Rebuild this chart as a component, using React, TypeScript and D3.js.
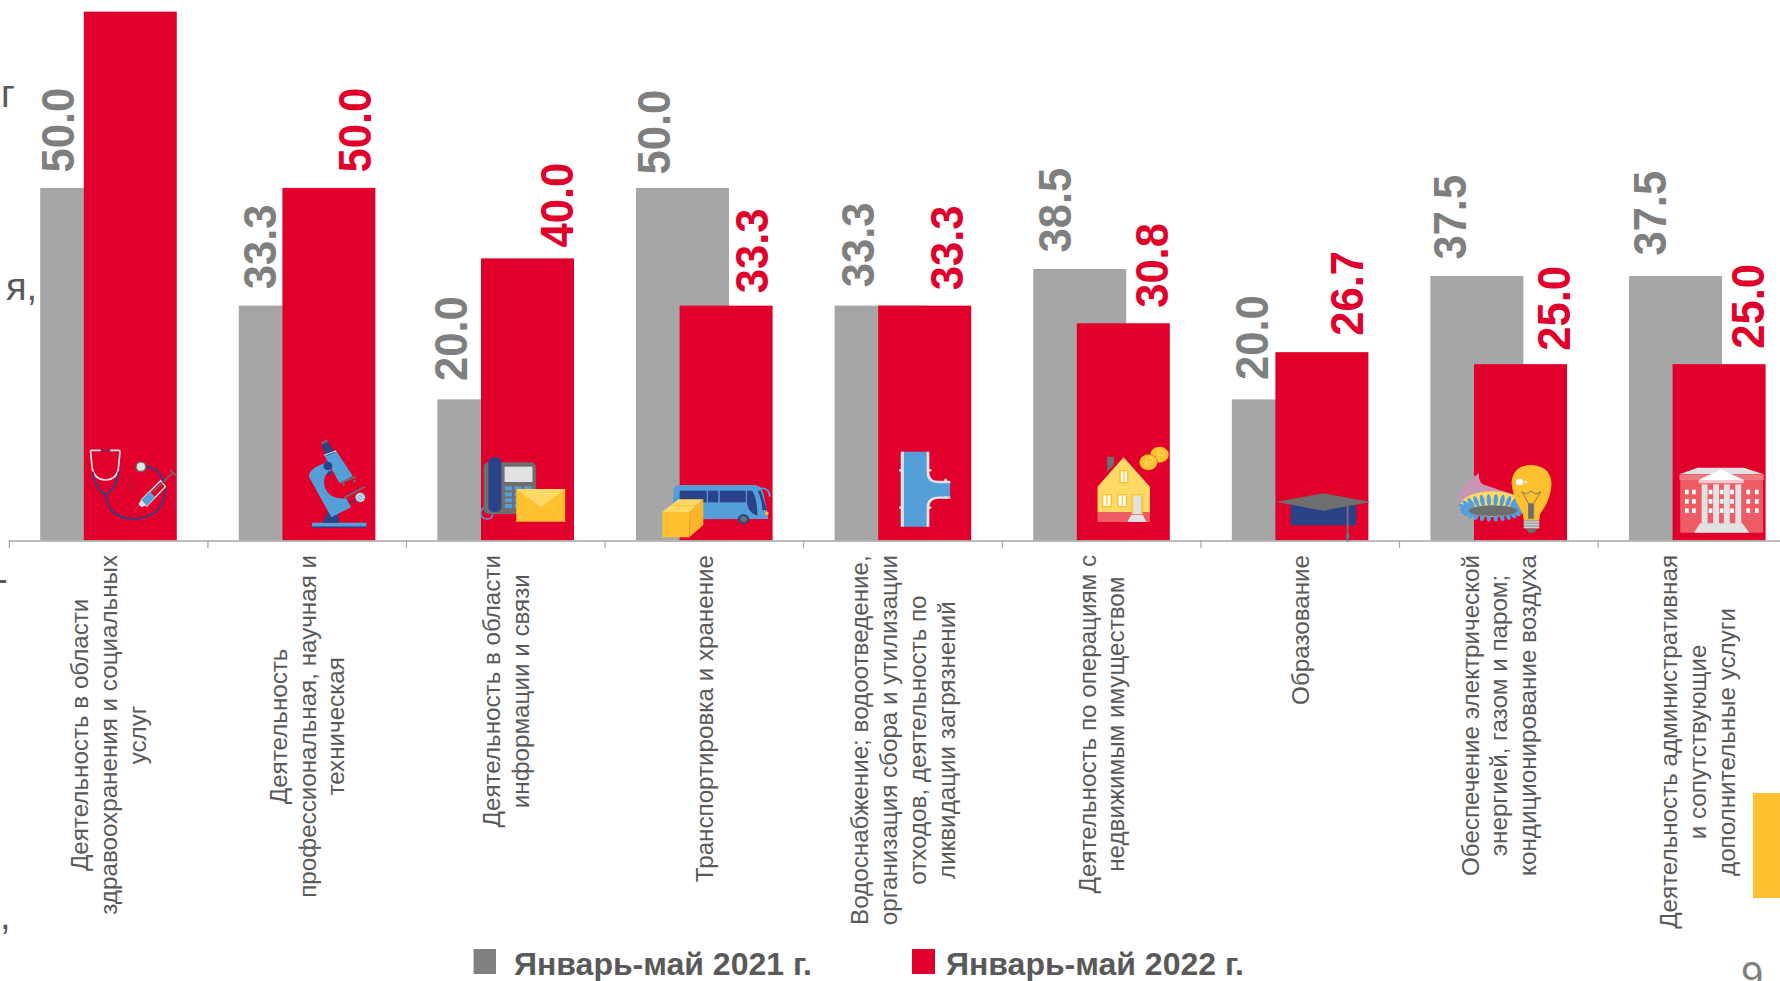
import React from "react";
import * as d3 from "d3";

const categories: string[][] = [
  ["Деятельность в области", "здравоохранения и социальных", "услуг"],
  ["Деятельность", "профессиональная, научная и", "техническая"],
  ["Деятельность в области", "информации и связи"],
  ["Транспортировка и хранение"],
  ["Водоснабжение; водоотведение,", "организация сбора и утилизации", "отходов, деятельность по", "ликвидации загрязнений"],
  ["Деятельность по операциям с", "недвижимым имуществом"],
  ["Образование"],
  ["Обеспечение электрической", "энергией, газом и паром;", "кондиционирование воздуха"],
  ["Деятельность административная", "и сопутствующие", "дополнительные услуги"],
];
const seriesNames = ["Январь-май 2021 г.", "Январь-май 2022 г."];
const values2021 = [50.0, 33.3, 20.0, 50.0, 33.3, 38.5, 20.0, 37.5, 37.5];
const values2022 = [75.0, 50.0, 40.0, 33.3, 33.3, 30.8, 26.7, 25.0, 25.0];

// hand-placed label nudges of the original slide (px)
const grayLabelDx = [65.2, 68.4, 60.8, 65.0, 70.8, 68.8, 67.8, 66.8, 68.8];
const grayLabelGap = [15.5, 16.5, 18.5, 13.5, 18.5, 16.5, 19.5, 16.5, 20.5];
const redLabelDx = [0, 163.5, 166.9, 162.9, 159.9, 165.9, 162.9, 170.9, 166.4];
const redLabelGap = [0, 15.5, 11, 12.5, 15.5, 15.5, 16.5, 13.5, 15.5];

const GRAY = "#A6A6A6";
const RED = "#E1002C";
const BLUE = "#559FD9";
const NAVY = "#2A4287";
const YEL = "#FDC02F";
const YEL2 = "#FFD966";
const DGR = "#6E6E6E";
const LGR = "#E2E2E2";
const PINK = "#EB5C64";
const FONT = "'Liberation Sans', Arial, sans-serif";
const CAT_FONT = 24.2;

const W = 1780;
const H = 981;
const x = d3.scaleBand<number>().domain(d3.range(categories.length)).range([8.8, 8.8 + 198.6 * categories.length]);
const y = d3.scaleLinear().domain([0, 75]).range([540.4, 11.65]);
const fmt = d3.format(".1f");

const measure = document.createElement("canvas").getContext("2d")!;
measure.font = `${CAT_FONT}px 'Liberation Sans'`;
const blockLength = (lines: string[]) => d3.max(lines, (l) => measure.measureText(l).width)!;

function Icons() {
  const t = (ox: number, oy: number, sx: number) => `translate(${ox},${oy}) scale(${1 / sx},${1 / 3})`;
  return (
    <g>
      <g transform={t(60, 420, 2.904)}>
        {/* stethoscope + syringe */}
        <path d="M118,91 H92 Q88,91 89,97 L93,140 Q97,178 132,180 Q168,178 170,140 L174,97 Q175,91 170,91 H145" fill="none" stroke={LGR} strokeWidth={5} />
        <rect x={120} y={88} width={8} height={6} fill={NAVY} />
        <rect x={138} y={88} width={8} height={6} fill={NAVY} />
        <path d="M95,155 Q102,205 133,225 Q165,205 170,155 M133,225 Q140,295 215,297 Q300,290 305,215 Q300,145 250,140" fill="none" stroke={NAVY} strokeWidth={5} />
        <circle cx={235} cy={140} r={16} fill={DGR} />
        <circle cx={235} cy={140} r={12} fill={LGR} />
        <path d="M205,172 V218 M185,195 H225" stroke="#CC0A2E" strokeWidth={11} />
        <path d="M236,240 L292,182 L306,200 L252,258 Z" fill="none" stroke={LGR} strokeWidth={4} />
        <path d="M236,240 L262,214 L276,232 L252,258 Z" fill={BLUE} />
        <path d="M228,252 L236,240 L250,256 L236,262 Z" fill={LGR} />
        <path d="M228,256 L214,276" stroke="#C9606B" strokeWidth={2} />
        <path d="M270,215 L328,158 M320,150 L337,166" stroke={DGR} strokeWidth={4} fill="none" />
        {/* microscope */}
        <rect x={732} y={308} width={158} height={12} fill={BLUE} />
        <rect x={732} y={320} width={158} height={4} fill={NAVY} />
        <path d="M762,308 Q772,290 782,270 Q795,262 808,275 L810,308 Z" fill={NAVY} />
        <circle cx={795} cy={280} r={5} fill={BLUE} />
        <path d="M723,170 Q724,150 745,140 L775,125 L845,262 L788,292 Z" fill={BLUE} />
        <path d="M790,150 Q758,165 770,205 Q785,240 830,235 L860,180 L800,140 Z" fill={RED} />
        <path d="M767,106 L802,92 L850,168 L812,190 Z" fill={BLUE} />
        <path d="M760,75 L778,66 L798,98 L772,108 Z" fill={NAVY} />
        <path d="M767,106 L802,92" stroke={LGR} strokeWidth={3} />
        <rect x={757} y={63} width={20} height={7} fill={DGR} transform="rotate(-28 767 66)" />
        <path d="M815,188 L860,170 M822,196 L826,190 M852,186 L858,180" stroke={DGR} strokeWidth={6} fill="none" />
        <path d="M825,233 L885,200" stroke={DGR} strokeWidth={5} />
        <path d="M838,245 Q850,250 860,238" stroke={NAVY} strokeWidth={3} fill="none" />
        <circle cx={778} cy={138} r={13} fill={NAVY} />
        <circle cx={783} cy={160} r={6} fill={NAVY} />
        <circle cx={872} cy={232} r={14} fill="#C5DAF0" />
        <path d="M862,238 L882,226 M864,230 L878,222 M866,243 L882,234" stroke={BLUE} strokeWidth={2} />
        {/* phone + envelope */}
        <circle cx={1240} cy={279} r={18} fill="none" stroke={BLUE} strokeWidth={4} />
        <rect x={1230} y={127} width={152} height={155} rx={14} fill={DGR} />
        <rect x={1244} y={112} width={38} height={164} rx={15} fill={NAVY} />
        <rect x={1291} y={140} width={81} height={46} fill={LGR} />
        {[199, 217, 235, 252].map((ky) =>
          [1292, 1320, 1348].map((kx) => <rect key={`${kx}-${ky}`} x={kx} y={ky} width={21} height={12} fill={BLUE} />)
        )}
        <rect x={1325} y={207} width={142} height={98} fill={YEL} />
        <path d="M1325,207 H1467 L1396,262 Z" fill={YEL2} />
        <path d="M1325,305 L1375,250 M1467,305 L1417,250" stroke={YEL2} strokeWidth={2} fill="none" />
      </g>

      <g transform={t(600, 420, 2.613)}>
        {/* bus + box */}
        <path d="M192,212 Q192,195 210,195 L405,195 Q422,196 428,225 L440,297 L190,298 Z" fill={BLUE} />
        <rect x={208} y={212} width={71} height={35} fill={NAVY} />
        <rect x={282} y={212} width={27} height={35} fill={NAVY} />
        <rect x={313} y={212} width={68} height={35} fill={NAVY} />
        <path d="M384,212 H398 Q412,240 411,287 Q388,278 384,250 Z" fill={NAVY} />
        <path d="M412,212 H420 L436,270 H424 Q424,240 412,212 Z" fill={NAVY} />
        <path d="M415,205 Q444,202 443,230" fill="none" stroke={BLUE} strokeWidth={5} />
        <rect x={432} y={275} width={8} height={10} fill={YEL} />
        <circle cx={375} cy={298} r={15} fill={NAVY} />
        <circle cx={375} cy={298} r={9} fill={DGR} />
        <path d="M163,276 H233 V352 H163 Z" fill={YEL} />
        <path d="M163,276 L205,238 H270 L233,276 Z" fill={YEL2} />
        <path d="M233,276 L270,238 V315 L233,352 Z" fill="#FAB52A" />
        <path d="M185,257 H250 M226,238 L198,276" stroke={YEL} strokeWidth={2} fill="none" />
        {/* pipe */}
        <path d="M786,95 H860 V158 Q860,184 886,184 H915 V235 H886 Q860,235 860,262 V320 H786 Z" fill={BLUE} />
        <path d="M790,95 V320" stroke={LGR} strokeWidth={8} />
        <path d="M857,95 V158 Q857,186 886,186 H915 M915,233 H886 Q857,233 857,262 V320" stroke={LGR} strokeWidth={7} fill="none" />
        {[[785, 151], [785, 263], [862, 151], [862, 263], [903, 180], [903, 233]].map(([a, b]) => (
          <circle key={`${a}-${b}`} cx={a} cy={b} r={4} fill={LGR} />
        ))}
        {/* house + coins */}
        <path d="M1325,110 H1343 V135 L1325,155 Z" fill={DGR} />
        <path d="M1300,200 L1368,112 L1437,200 V276 H1300 Z" fill={YEL2} />
        <rect x={1300} y={276} width={137} height={30} fill={PINK} />
        {[[1357, 150, 24, 40], [1311, 222, 27, 40], [1351, 222, 27, 40]].map(([a, b, w, h]) => (
          <g key={`${a}-${b}`}>
            <rect x={a} y={b} width={w} height={h} fill={YEL} />
            <rect x={a + 4} y={b + 4} width={w - 8} height={h - 8} fill="#FFF" />
            <path d={`M${a + w / 2},${b} V${b + h}`} stroke={YEL} strokeWidth={3} />
          </g>
        ))}
        <rect x={1389} y={222} width={29} height={60} fill={YEL} />
        <rect x={1393} y={226} width={21} height={56} fill={LGR} />
        <path d="M1388,284 H1418 L1428,306 H1378 Z" fill={LGR} />
        <circle cx={1462} cy={104} r={24} fill={YEL} />
        <circle cx={1433} cy={127} r={24} fill={YEL} stroke={RED} strokeWidth={1} />
        <path d="M1428,140 V112 H1440 Q1448,120 1440,127 H1424 M1424,133 H1438" stroke={YEL2} strokeWidth={3} fill="none" />
        <path d="M1459,122 V92 H1470 Q1476,100 1470,106 H1455" stroke={YEL2} strokeWidth={3} fill="none" />
      </g>

      <g transform={t(1200, 420, 2.703)}>
        {/* graduation cap */}
        <rect x={245} y={255} width={177} height={61} fill={NAVY} />
        <path d="M205,246 L333,220 L462,246 L333,272 Z" fill={DGR} />
        <path d="M399,258 V340" stroke="#7B6A80" strokeWidth={5} />
        <path d="M399,334 Q410,345 399,367 Q388,345 399,334 Z" fill={DGR} />
        {/* burner + bulb */}
        <path d="M700,232 Q705,195 754,160 Q752,190 770,195 L850,225 V260 H716 Z" fill="#C995B5" />
        <ellipse cx={790} cy={252} rx={84} ry={38} fill={YEL2} />
        {d3.range(0, 26).map((i) => {
          const a = (i / 26) * 2 * Math.PI;
          const s = Math.sin(a);
          const px = 790 + 76 * Math.cos(a);
          const py = 268 + (s < 0 ? 28 : 26) * s;
          const rot = (Math.atan2(s * 2, Math.cos(a)) * 180) / Math.PI + 90;
          return <ellipse key={i} cx={px} cy={py} rx={6} ry={s < 0 ? 18 : 11} transform={`rotate(${rot} ${px} ${py})`} fill={BLUE} />;
        })}
        <ellipse cx={792} cy={272} rx={66} ry={16} fill={DGR} />
        <path d="M842,188 Q846,135 895,135 Q950,138 950,195 Q948,240 920,280 L917,300 H875 L872,280 Q846,235 842,188 Z" fill={YEL} />
        <circle cx={864} cy={186} r={10} fill="#FFF" />
        <circle cx={881} cy={186} r={4} fill="#FFF" />
        <path d="M870,215 L882,222 L895,213 L908,222 L921,215 L902,250 V296 H888 V250 Z" fill="none" stroke={DGR} strokeWidth={2.5} />
        <rect x={889} y={250} width={12} height={44} fill={DGR} />
        <rect x={875} y={300} width={42} height={26} fill="#A6A6A6" />
        <path d="M875,306 H917 M875,314 H917 M875,322 H917" stroke="#E8E8E8" strokeWidth={2} />
        <path d="M880,326 H912 L903,338 H889 Z" fill={DGR} />
        {/* building */}
        <rect x={1298} y={178} width={224} height={160} fill={PINK} />
        <path d="M1296,163 L1345,143 H1470 L1524,163 Z" fill={LGR} />
        <rect x={1296} y={163} width={228} height={17} fill="#F07A80" />
        {[1316, 1335, 1380, 1410, 1438, 1482, 1505].map((wx) =>
          [216, 244, 272].map((wy) => <rect key={`${wx}-${wy}`} x={wx - 5} y={wy - 7} width={10} height={14} fill="#FFF" />)
        )}
        {[1364, 1395, 1424, 1455].map((cx) => (
          <rect key={cx} x={cx - 8} y={193} width={16} height={118} fill={LGR} />
        ))}
        <path d="M1348,180 L1408,148 L1470,180 Z" fill="#FFF" />
        <path d="M1348,180 H1470 V190 H1348 Z" fill="#F5C9CB" />
        <path d="M1352,310 H1466 L1485,338 H1335 Z" fill={LGR} />
      </g>
    </g>
  );
}

export default function App() {
  const band = x.bandwidth();
  const valueTransform = (vx: number, vy: number) => `translate(${vx},${vy}) rotate(-90) scale(1,1.06)`;
  return (
    <svg width={W} height={H} viewBox={`0 0 ${W} ${H}`} style={{ position: "fixed", left: 0, top: 0, background: "#fff" }} fontFamily={FONT}>
      {/* clipped text from neighbouring slide content */}
      <g fill="#595959" fontSize={38}>
        <text x={1} y={107}>г</text>
        <text x={6} y={300}>я,</text>
        <text x={-5} y={592}>-</text>
        <text x={0} y={929}>,</text>
      </g>
      <text x={1741} y={990} fontSize={40} fill="#7F7F7F">9</text>
      <rect x={1753} y={793} width={27} height={105} fill={YEL} />

      {categories.map((_, i) => (
        <rect key={`g${i}`} x={x(i)! + 31.4} y={y(values2021[i])} width={93} height={y(0) - y(values2021[i])} fill={GRAY} />
      ))}
      {categories.map((_, i) => (
        <rect key={`r${i}`} x={x(i)! + 75} y={y(values2022[i])} width={93} height={y(0) - y(values2022[i])} fill={RED} />
      ))}

      <line x1={x(0)} x2={W} y1={y(0) + 0.5} y2={y(0) + 0.5} stroke={GRAY} strokeWidth={1.5} />
      {categories.map((_, i) => (
        <line key={`t${i}`} x1={x(i)! + 0.5} x2={x(i)! + 0.5} y1={y(0)} y2={y(0) + 7.5} stroke={GRAY} strokeWidth={1.2} />
      ))}

      <Icons />

      <g fontWeight="bold" fontSize={43.5}>
        {values2021.map((v, i) => (
          <text key={i} transform={valueTransform(x(i)! + grayLabelDx[i], y(v) - grayLabelGap[i])} fill="#7F7F7F">{fmt(v)}</text>
        ))}
        {values2022.map((v, i) =>
          i === 0 ? null : (
            <text key={i} transform={valueTransform(x(i)! + redLabelDx[i], y(v) - redLabelGap[i])} fill={RED}>{fmt(v)}</text>
          )
        )}
      </g>

      <g fontSize={CAT_FONT} fill="#595959">
        {categories.map((lines, i) => {
          const cx = x(i)! + band / 2;
          const step = 28.7;
          const mid = 555 + blockLength(lines) / 2;
          return lines.map((l, j) => (
            <text key={j} transform={`translate(${cx + (j - (lines.length - 1) / 2) * step + 9},${mid}) rotate(-90)`} textAnchor="middle">{l}</text>
          ));
        })}
      </g>

      <rect x={473.6} y={949} width={22.4} height={25} fill="#7F7F7F" />
      <text x={514} y={975} fontSize={32} fontWeight="bold" fill="#595959">{seriesNames[0]}</text>
      <rect x={912} y={949} width={23} height={25} fill={RED} />
      <text x={946} y={975} fontSize={32} fontWeight="bold" fill="#595959">{seriesNames[1]}</text>
    </svg>
  );
}
